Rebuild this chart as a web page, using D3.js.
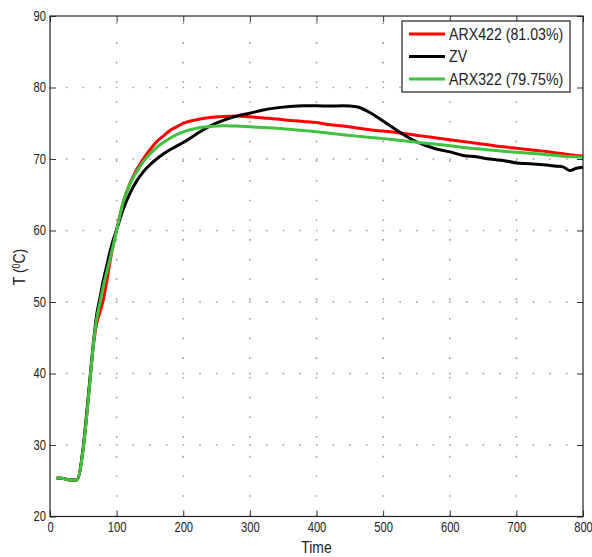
<!DOCTYPE html>
<meta charset="utf-8">
<style>
body { margin: 0; background: #fff; }
svg { display: block; }
text { font-family: "Liberation Sans", Arial, sans-serif; fill: #222; }
.axis text { font-size: 14px; }
.axis .domain { display: none; }
.axis line { stroke: #333; }
.grid line { stroke: #9a9a9a; stroke-width: 1.6; }
.frame { fill: none; stroke: #222; stroke-width: 1.2; }
.curve { fill: none; stroke-width: 3; stroke-linejoin: round; }
</style>
<svg id="chart" width="592" height="557"></svg>
<script src="https://d3js.org/d3.v7.min.js"></script>
<script>

var time = [10,20,30,40,50,55,60,65,70,75,80,85,90,95,100,110,120,130,140,150,160,170,180,190,200,
  220,240,260,280,300,320,340,360,380,400,420,440,460,480,500,520,540,560,580,600,
  620,640,660,680,700,720,740,760,770,780,790,800];

var arx422 = [25.4,25.3,25.1,25.1,29.6,34,39,43.8,47.0,48.6,50.3,52.8,55.6,58.0,60.1,64.0,66.6,68.5,70.0,71.3,72.4,73.2,74.0,74.5,75.0,
  75.5,75.8,75.95,76.0,75.9,75.75,75.6,75.4,75.25,75.1,74.8,74.6,74.35,74.1,73.9,73.7,73.45,73.2,72.95,72.7,
  72.45,72.2,71.95,71.7,71.5,71.3,71.1,70.85,70.75,70.6,70.5,70.4];

var zv = [25.4,25.3,25.1,25.1,29.8,34.4,39.3,44.2,48.2,50.6,53.0,55.0,57.0,58.7,60.1,63.0,65.2,66.9,68.2,69.2,70.0,70.7,71.3,71.8,72.3,
  73.5,74.6,75.4,76.0,76.4,76.85,77.15,77.35,77.45,77.45,77.4,77.45,77.3,76.5,75.3,74.05,72.9,72.0,71.4,71.0,
  70.5,70.3,70.0,69.8,69.45,69.35,69.2,69.0,68.9,68.4,68.7,68.85];

var arx322 = [25.4,25.3,25.1,25.1,29.6,34,39,44.0,47.6,49.9,52.2,54.1,56.0,58.0,60.0,64.0,66.5,68.2,69.6,70.7,71.6,72.3,72.9,73.4,73.8,
  74.3,74.55,74.65,74.6,74.5,74.4,74.3,74.15,74.0,73.8,73.6,73.4,73.2,73.0,72.85,72.65,72.45,72.25,72.05,71.85,
  71.6,71.45,71.25,71.1,70.95,70.8,70.65,70.5,70.4,70.35,70.3,70.25];

var seriesNames = ["ARX422 (81.03%)", "ZV", "ARX322 (79.75%)"];
var seriesColors = ["#ff0000", "#000000", "#3fc23f"];
var xTicks = [0,100,200,300,400,500,600,700,800];
var yTicks = [20,30,40,50,60,70,80,90];

var plotLeft = 50, plotRight = 583, plotTop = 16, plotBottom = 516.5;

var x = d3.scaleLinear().domain([0, 800]).range([plotLeft, plotRight]);
var y = d3.scaleLinear().domain([20, 90]).range([plotBottom, plotTop]);

var svg = d3.select("#chart");

// dotted grid
var grid = svg.append("g").attr("class", "grid");
grid.selectAll(".gx")
    .data(xTicks.slice(1, -1))
  .enter().append("line")
    .attr("x1", function(d) { return x(d); })
    .attr("x2", function(d) { return x(d); })
    .attr("y1", plotBottom)
    .attr("y2", plotTop)
    .attr("stroke-dasharray", "1.6,18.1");
grid.selectAll(".gy")
    .data(yTicks.slice(1, -1))
  .enter().append("line")
    .attr("x1", plotLeft)
    .attr("x2", plotRight)
    .attr("y1", function(d) { return y(d); })
    .attr("y2", function(d) { return y(d); })
    .attr("stroke-dasharray", "1.6,15.07")
    .attr("stroke-dashoffset", 0.8);

// narrow look: squeeze text horizontally
function squeeze(sel, k) {
  sel.each(function() {
    var t = d3.select(this);
    var tx = +t.attr("x") || 0;
    t.attr("transform", "translate(" + tx + ",0) scale(" + k + ",1) translate(" + (-tx) + ",0)");
  });
}

// axes, ticks pointing inward
svg.append("g")
    .attr("class", "axis")
    .attr("transform", "translate(0," + plotBottom + ")")
    .call(d3.axisBottom(x).tickValues(xTicks).tickSizeInner(-6).tickSizeOuter(0).tickPadding(6))
    .selectAll("text").call(squeeze, 0.8);
svg.append("g")
    .attr("class", "axis")
    .attr("transform", "translate(0," + plotTop + ")")
    .call(d3.axisTop(x).tickValues(xTicks).tickSizeInner(-6).tickSizeOuter(0).tickFormat(""));
svg.append("g")
    .attr("class", "axis")
    .attr("transform", "translate(" + plotLeft + ",0)")
    .call(d3.axisLeft(y).tickValues(yTicks).tickSizeInner(-6).tickSizeOuter(0).tickPadding(4))
    .selectAll("text").call(squeeze, 0.8);
svg.append("g")
    .attr("class", "axis")
    .attr("transform", "translate(" + plotRight + ",0)")
    .call(d3.axisRight(y).tickValues(yTicks).tickSizeInner(-6).tickSizeOuter(0).tickFormat(""));

// curves
var line = d3.line()
    .x(function(d) { return x(d[0]); })
    .y(function(d) { return y(d[1]); })
    .curve(d3.curveMonotoneX);

[arx422, zv, arx322].forEach(function(vals, i) {
  svg.append("path")
      .attr("class", "curve")
      .attr("stroke", seriesColors[i])
      .attr("d", line(time.map(function(t, j) { return [t, vals[j]]; })));
});

svg.append("rect")
    .attr("class", "frame")
    .attr("x", plotLeft)
    .attr("y", plotTop)
    .attr("width", plotRight - plotLeft)
    .attr("height", plotBottom - plotTop);

// axis labels
svg.append("text")
    .attr("x", (plotLeft + plotRight) / 2)
    .attr("y", 553)
    .attr("text-anchor", "middle")
    .style("font-size", "16px")
    .call(squeeze, 0.87)
    .text("Time");

var yl = svg.append("text")
    .attr("transform", "translate(25,267) rotate(-90) scale(0.87,1)")
    .attr("text-anchor", "middle")
    .style("font-size", "16px");
yl.append("tspan").text("T (");
yl.append("tspan").attr("baseline-shift", "super").style("font-size", "10px").text("0");
yl.append("tspan").text("C)");

// legend
var lg = svg.append("g").attr("transform", "translate(402,21)");
lg.append("rect")
    .attr("width", 168)
    .attr("height", 71)
    .attr("fill", "#fff")
    .attr("stroke", "#222")
    .attr("stroke-width", 1.2);
var row = lg.selectAll(".row")
    .data(seriesNames)
  .enter().append("g")
    .attr("transform", function(d, i) { return "translate(0," + (13 + i * 22.5) + ")"; });
row.append("line")
    .attr("x1", 7).attr("x2", 43)
    .attr("stroke", function(d, i) { return seriesColors[i]; })
    .attr("stroke-width", 3);
row.append("text")
    .attr("transform", "translate(47,0) scale(0.86,1)")
    .attr("dy", "0.36em")
    .style("font-size", "16.5px")
    .text(function(d) { return d; });

</script>
